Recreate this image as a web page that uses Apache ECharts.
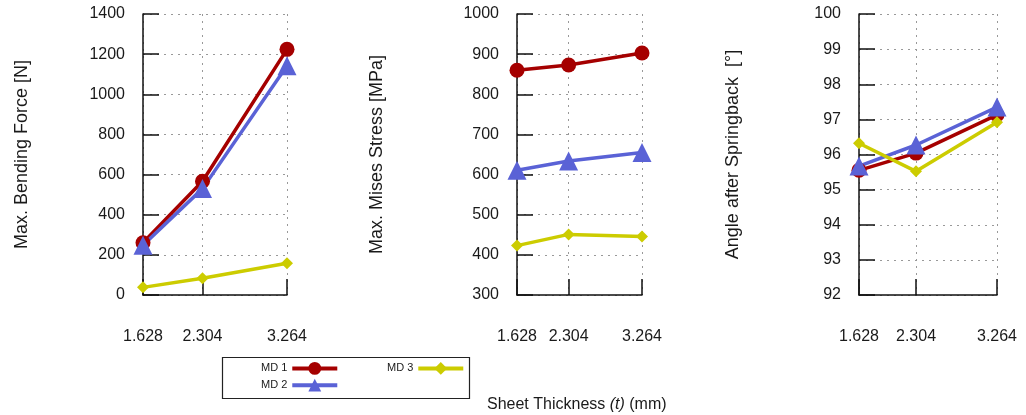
<!DOCTYPE html>
<html>
<head>
<meta charset="utf-8">
<script src="https://cdn.jsdelivr.net/npm/echarts@6/dist/echarts.min.js"></script>
<style>
html,body{margin:0;padding:0;background:#fff;}
#c{width:1026px;height:415px;}
</style>
</head>
<body>
<div id="c"></div>
<script>
// ---- data ----
const thickness = [1.628, 2.304, 3.264];
const seriesNames = ['MD 1', 'MD 2', 'MD 3'];
const forceMD1 = [260, 567, 1224];
const forceMD2 = [248, 530, 1142];
const forceMD3 = [38, 83, 158];
const stressMD1 = [860, 873, 903];
const stressMD2 = [611, 634, 655];
const stressMD3 = [423, 451, 446];
const angleMD1 = [95.55, 96.04, 97.13];
const angleMD2 = [95.67, 96.27, 97.35];
const angleMD3 = [96.32, 95.52, 96.92];
const yTitles = ['Max. Bending Force [N]', 'Max. Mises Stress [MPa]', 'Angle after Springback  [°]'];
const xTitle = 'Sheet Thickness {i|(t)} (mm)';

const colors = ['#a50000', '#5a62d6', '#cccc00'];
const symbols = ['circle', 'triangle', 'diamond'];
const symbolSizes = [15, 19, [12, 12]];
const FONT = 'Liberation Sans, Arial, sans-serif';
const TXT = '#1a1a1a';

const grids = [
  {left: 143, top: 14, width: 144, height: 281},
  {left: 517, top: 14, width: 125, height: 281},
  {left: 859, top: 14, width: 138, height: 281}
];
const yRanges = [[0, 1400, 200], [300, 1000, 100], [92, 100, 1]];
const nameGaps = [112, 131, 117];
const dataSets = [
  [forceMD1, forceMD2, forceMD3],
  [stressMD1, stressMD2, stressMD3],
  [angleMD1, angleMD2, angleMD3]
];

const xAxes = grids.map((g, i) => ({
  type: 'value', gridIndex: i, min: thickness[0], max: thickness[thickness.length - 1],
  axisLine: {show: true, lineStyle: {color: '#111', width: 1.5}},
  axisTick: {show: true, inside: true, length: 16, customValues: thickness, lineStyle: {color: '#111', width: 1.5}},
  axisLabel: {show: true, customValues: thickness, margin: 34, fontSize: 16, color: TXT, fontFamily: FONT,
    formatter: v => v.toFixed(3)},
  splitLine: {show: true, lineStyle: {color: '#999', type: [2, 5], width: 1}}
}));

const yAxes = grids.map((g, i) => ({
  type: 'value', gridIndex: i, min: yRanges[i][0], max: yRanges[i][1], interval: yRanges[i][2],
  name: yTitles[i], nameLocation: 'middle', nameRotate: 90, nameGap: nameGaps[i],
  nameTextStyle: {fontSize: 18, color: TXT, fontFamily: FONT},
  axisLine: {show: true, lineStyle: {color: '#111', width: 1.5}},
  axisTick: {show: true, inside: true, length: 16, lineStyle: {color: '#111', width: 1.5}},
  axisLabel: {margin: 18, fontSize: 16, color: TXT, fontFamily: FONT, formatter: v => String(v)},
  splitLine: {show: true, lineStyle: {color: '#999', type: [2, 5], width: 1}}
}));

const series = [];
dataSets.forEach((set, gi) => {
  set.forEach((vals, si) => {
    series.push({
      type: 'line', name: seriesNames[si], xAxisIndex: gi, yAxisIndex: gi,
      data: thickness.map((t, k) => [t, vals[k]]),
      symbol: symbols[si], symbolSize: symbolSizes[si], clip: false,
      lineStyle: {color: colors[si], width: 3.5},
      itemStyle: {color: colors[si]}
    });
  });
});

const chart = echarts.init(document.getElementById('c'));
chart.setOption({
  animation: false,
  backgroundColor: '#fff',
  textStyle: {fontFamily: FONT},
  grid: grids,
  xAxis: xAxes,
  yAxis: yAxes,
  series: series,
  title: {
    text: xTitle, left: 482, top: 392,
    textStyle: {fontSize: 16, fontWeight: 'normal', color: TXT, fontFamily: FONT,
      rich: {i: {fontSize: 16, fontStyle: 'italic', color: TXT, fontFamily: FONT}}}
  },
  legend: [
    {data: ['MD 1', 'MD 2'], orient: 'vertical', left: 256, top: 357, align: 'right',
     itemWidth: 45, itemHeight: 16, itemGap: 4, lineStyle: {width: 4},
     textStyle: {fontSize: 11, color: TXT, fontFamily: FONT}},
    {data: ['MD 3'], orient: 'vertical', left: 382, top: 357, align: 'right',
     itemWidth: 45, itemHeight: 16, itemGap: 4, lineStyle: {width: 4},
     textStyle: {fontSize: 11, color: TXT, fontFamily: FONT}}
  ],
  graphic: [{
    type: 'rect', left: 220, top: 355, shape: {width: 247, height: 41},
    style: {fill: 'none', stroke: '#222', lineWidth: 1.2}, silent: true
  }]
});
</script>
</body>
</html>
